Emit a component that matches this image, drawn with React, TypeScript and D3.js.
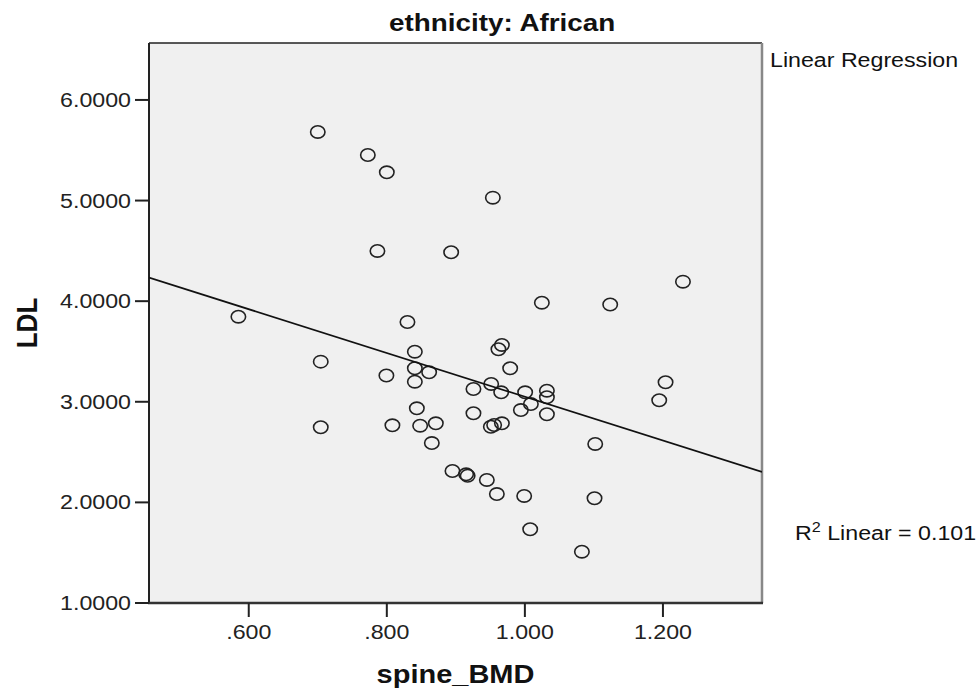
import React from "react";
import * as d3 from "d3";

// Data (spine_BMD, LDL)
const spineBMD = [
  0.700, 0.7725, 0.800, 0.9536, 0.7864, 0.8932, 1.229, 1.0246, 1.1236, 0.585,
  0.8299, 0.8406, 0.7043, 0.9667, 0.9617, 0.9787, 0.8406, 0.7994, 0.8613, 0.8406,
  0.9255, 0.9512, 0.9657, 1.0004, 1.0319, 1.0319, 1.2038, 1.1946, 1.0087, 0.9942,
  1.0319, 0.8435, 0.9255, 0.7043, 0.8081, 0.8483, 0.8710, 0.9507, 0.9555, 0.9667,
  0.8652, 1.1019, 0.8951, 0.9149, 0.9171, 0.9449, 0.9594, 0.9990, 1.1009, 1.0077,
  1.0826,
];
const ldl = [
  5.682, 5.453, 5.281, 5.029, 4.499, 4.486, 4.194, 3.985, 3.967, 3.846,
  3.793, 3.498, 3.399, 3.565, 3.522, 3.333, 3.333, 3.261, 3.293, 3.200,
  3.127, 3.177, 3.094, 3.094, 3.110, 3.045, 3.194, 3.015, 2.978, 2.918,
  2.876, 2.935, 2.886, 2.747, 2.766, 2.762, 2.786, 2.752, 2.769, 2.786,
  2.590, 2.581, 2.312, 2.279, 2.265, 2.223, 2.083, 2.064, 2.041, 1.733,
  1.510,
];
// Fitted line as drawn: [intercept, slope]
const fitLine = [5.225, -2.175];
const xTicks = [0.6, 0.8, 1.0, 1.2];
const xTickLabels = [".600", ".800", "1.000", "1.200"];
const yTicks = [1, 2, 3, 4, 5, 6];
const yTickLabels = ["1.0000", "2.0000", "3.0000", "4.0000", "5.0000", "6.0000"];
const titleText = "ethnicity: African";
const xTitle = "spine_BMD";
const yTitle = "LDL";
const legendTop = "Linear Regression";
const r2Value = "0.101";

const W = 980;
const H = 693;
const L = 149, R = 762, T = 43, B = 603;
const SX = 1.16;
const FONT = "'Liberation Sans', Arial, Helvetica, sans-serif";

export default function App() {
  const x = d3.scaleLinear().domain([0.4555, 1.3435]).range([L, R]);
  const y = d3.scaleLinear().domain([1, 6.566]).range([B, T]);
  const pts = spineBMD.map((v, i) => ({ x: v, y: ldl[i] }));
  const [a, b] = fitLine;
  const x0 = x.domain()[0], x1 = x.domain()[1];
  const line = d3.line<[number, number]>().x((d) => x(d[0])).y((d) => y(d[1]));
  const linePath = line([[x0, a + b * x0], [x1, a + b * x1]]) || "";

  const txt = (
    tx: number,
    ty: number,
    s: string,
    opts: { size: number; anchor?: string; weight?: string; fill?: string }
  ) => (
    <g transform={`translate(${tx},${ty}) scale(${SX},1)`}>
      <text
        x={0}
        y={0}
        fontSize={opts.size}
        fontFamily={FONT}
        fontWeight={opts.weight || "normal"}
        textAnchor={opts.anchor || "start"}
        fill={opts.fill || "#222"}
      >
        {s}
      </text>
    </g>
  );

  return (
    <svg
      width={W}
      height={H}
      style={{ position: "absolute", left: 0, top: 0, background: "#fff" }}
    >
      <defs>
        <clipPath id="plotclip">
          <rect x={L} y={T} width={R - L} height={B - T} />
        </clipPath>
      </defs>
      <rect x={L} y={T} width={R - L} height={B - T} fill="#f0f0f0" />
      {/* frame */}
      <line x1={L} x2={R} y1={T} y2={T} stroke="#222" strokeWidth={1.5} />
      <line x1={R} x2={R} y1={T} y2={B} stroke="#888" strokeWidth={2.5} />
      <line x1={L} x2={L} y1={T} y2={B + 1} stroke="#222" strokeWidth={2} />
      <line x1={L - 1} x2={R + 1} y1={B} y2={B} stroke="#333" strokeWidth={2.5} />

      {/* y ticks */}
      {yTicks.map((t, i) => (
        <g key={"y" + t}>
          <line x1={L - 14} x2={L} y1={y(t)} y2={y(t)} stroke="#222" strokeWidth={2} />
          {txt(L - 18, y(t) + 7, yTickLabels[i], { size: 20, anchor: "end" })}
        </g>
      ))}
      {/* x ticks */}
      {xTicks.map((t, i) => (
        <g key={"x" + t}>
          <line x1={x(t)} x2={x(t)} y1={B} y2={B + 14} stroke="#222" strokeWidth={2} />
          {txt(x(t), 639, xTickLabels[i], { size: 20, anchor: "middle" })}
        </g>
      ))}

      {/* points */}
      <g clipPath="url(#plotclip)">
        {pts.map((p, i) => (
          <ellipse
            key={i}
            cx={x(p.x)}
            cy={y(p.y)}
            rx={7.2}
            ry={6.2}
            fill="none"
            stroke="#222"
            strokeWidth={1.6}
          />
        ))}
        <path d={linePath} stroke="#111" strokeWidth={1.7} fill="none" />
      </g>

      {/* titles */}
      {txt(389, 31, titleText, { size: 24, anchor: "start", weight: "bold", fill: "#111" })}
      {txt((L + R) / 2, 683, xTitle, { size: 25, anchor: "middle", weight: "bold", fill: "#111" })}
      <g transform={`translate(37,${(T + B) / 2}) rotate(-90) scale(1,${SX})`}>
        <text
          x={0}
          y={0}
          fontSize={26}
          fontFamily={FONT}
          fontWeight="bold"
          textAnchor="middle"
          fill="#111"
        >
          {yTitle}
        </text>
      </g>

      {/* legend texts */}
      {txt(770, 67, legendTop, { size: 20, fill: "#111" })}
      <g transform={`translate(795,540) scale(${SX},1)`}>
        <text x={0} y={0} fontSize={20} fontFamily={FONT} fill="#111">
          R
          <tspan dy={-8} fontSize={14}>2</tspan>
          <tspan dy={8}>{" Linear = " + r2Value}</tspan>
        </text>
      </g>
    </svg>
  );
}
